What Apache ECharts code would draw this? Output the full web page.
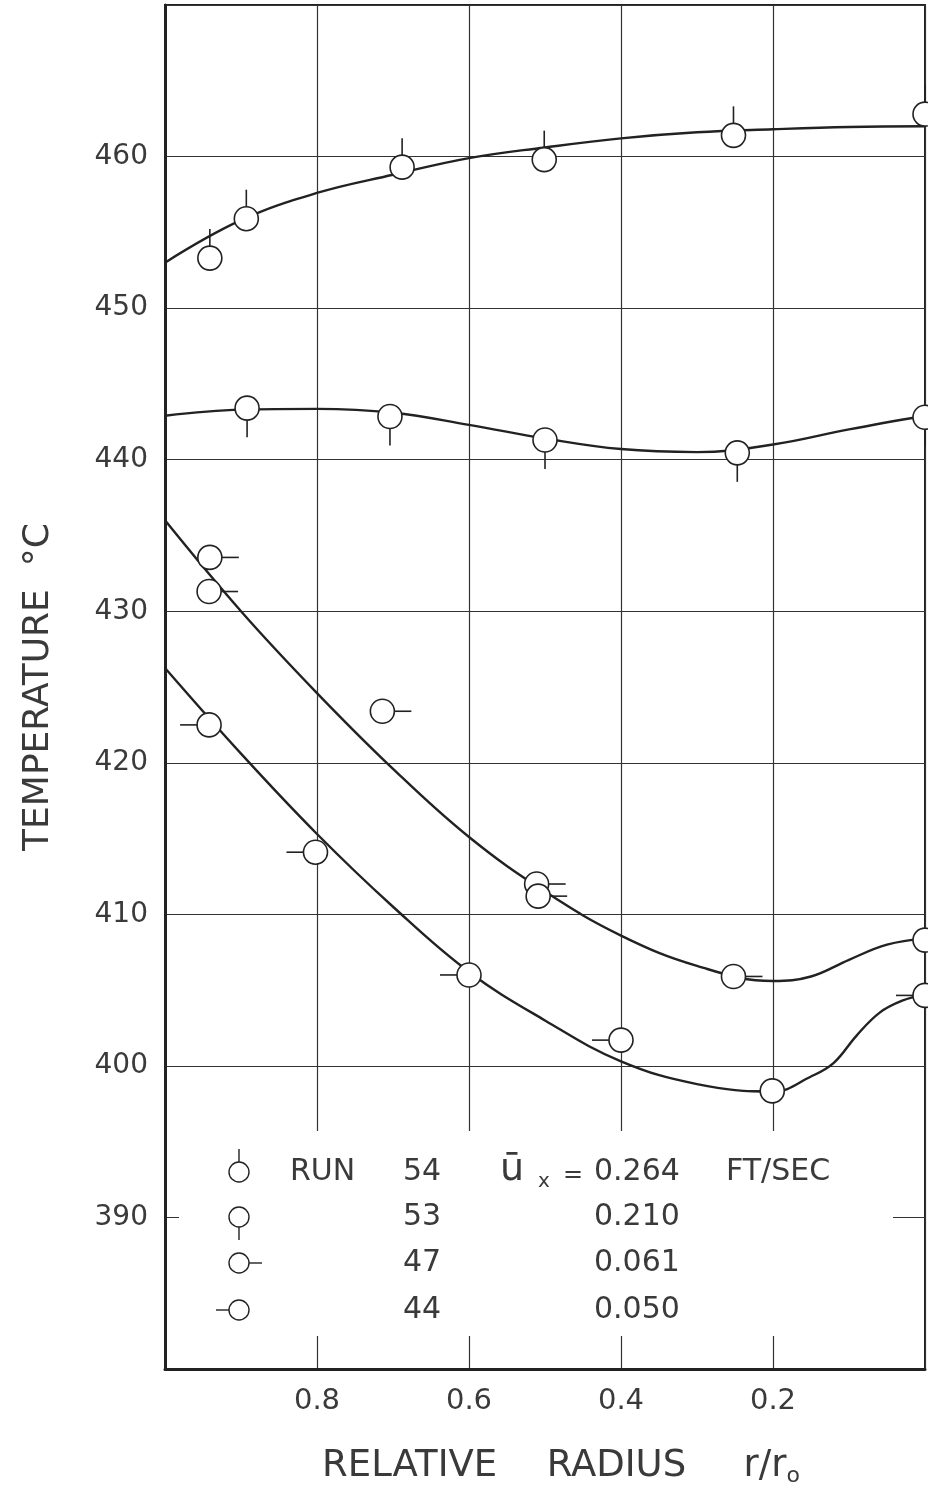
<!DOCTYPE html>
<html>
<head>
<meta charset="utf-8">
<script src="https://cdn.jsdelivr.net/npm/echarts@6/dist/echarts.min.js"></script>
<style>
html,body{margin:0;padding:0;background:#fff;}
#chart{width:928px;height:1492px;}
</style>
</head>
<body>
<div id="chart"></div>
<script>
// measured points [r/r0, temperature C]
var run54 = [[0.941,453.3],[0.893,455.9],[0.688,459.3],[0.501,459.8],[0.252,461.4],[0.0,462.8]];
var run53 = [[0.892,443.4],[0.704,442.85],[0.500,441.3],[0.247,440.45],[0.0,442.8]];
var run47 = [[0.941,433.55],[0.942,431.3],[0.714,423.4],[0.511,412.0],[0.509,411.2],[0.252,405.9],[0.0,408.3]];
var run44 = [[0.942,422.5],[0.802,414.1],[0.600,406.0],[0.400,401.7],[0.201,398.35],[0.0,404.65]];

// faired curves through the runs
var curve54 = [[1.0,453.0],[0.9,455.8],[0.8,457.6],[0.7,458.8],[0.6,459.9],[0.5,460.6],[0.4,461.2],[0.3,461.6],[0.2,461.8],[0.1,461.95],[0.0,462.0]];
var curve53 = [[1.0,442.9],[0.9,443.3],[0.8,443.35],[0.7,443.1],[0.6,442.3],[0.5,441.4],[0.4,440.7],[0.3,440.5],[0.2,441.0],[0.1,442.0],[0.0,442.9]];
var curve47 = [[1.0,436.0],[0.9,430.0],[0.8,424.6],[0.7,419.6],[0.6,415.1],[0.5,411.5],[0.4,408.6],[0.3,406.6],[0.2,405.6],[0.15,405.9],[0.1,407.0],[0.05,408.0],[0.0,408.4]];
var curve44 = [[1.0,426.25],[0.9,420.6],[0.8,415.3],[0.7,410.5],[0.6,406.2],[0.5,403.0],[0.4,400.3],[0.3,398.8],[0.2,398.3],[0.15,399.3],[0.12,400.2],[0.09,402.0],[0.06,403.5],[0.03,404.3],[0.0,404.7]];

var xTicks = [0.8, 0.6, 0.4, 0.2];
var yTicks = [390, 400, 410, 420, 430, 440, 450, 460];

var legendRuns = ['54', '53', '47', '44'];
var legendVel = ['0.264', '0.210', '0.061', '0.050'];
var legendDir = ['up', 'down', 'right', 'left'];

var INK = '#222';
var TXT = '#3a3a3a';
var FONT = 'DejaVu Sans';

function tickLine(cx, cy, r, len, dir) {
    if (dir === 'up') return {x1: cx, y1: cy - r, x2: cx, y2: cy - r - len};
    if (dir === 'down') return {x1: cx, y1: cy + r, x2: cx, y2: cy + r + len};
    if (dir === 'right') return {x1: cx + r, y1: cy, x2: cx + r + len, y2: cy};
    return {x1: cx - r, y1: cy, x2: cx - r - len, y2: cy};
}

function marker(dir) {
    return function (params, api) {
        var p = api.coord([api.value(0), api.value(1)]);
        return {
            type: 'group',
            children: [
                {type: 'line', shape: tickLine(p[0], p[1], 12, 17, dir), style: {stroke: INK, lineWidth: 1.6}},
                {type: 'circle', shape: {cx: p[0], cy: p[1], r: 12}, style: {fill: '#fff', stroke: INK, lineWidth: 1.6}}
            ]
        };
    };
}

function curve(name, data) {
    return {
        name: name, type: 'line', data: data, smooth: 0.4, showSymbol: false,
        lineStyle: {color: INK, width: 2.4}, z: 2, silent: true
    };
}
function points(name, data, dir) {
    return {name: name, type: 'custom', data: data, renderItem: marker(dir), z: 3, silent: true};
}

// legend block drawn inside the plot (white box cuts the grid)
var graphics = [{
    type: 'rect', z: 10,
    shape: {x: 179, y: 1131, width: 714, height: 205},
    style: {fill: '#fff'}
}];
var rowY = [1172, 1217, 1263, 1310];
for (var i = 0; i < legendRuns.length; i++) {
    var y = rowY[i];
    graphics.push({type: 'line', z: 11, shape: tickLine(239, y, 10, 13, legendDir[i]), style: {stroke: INK, lineWidth: 1.4}});
    graphics.push({type: 'circle', z: 11, shape: {cx: 239, cy: y, r: 10}, style: {fill: '#fff', stroke: INK, lineWidth: 1.4}});
    graphics.push({type: 'text', z: 11, x: 403, y: y, style: {text: legendRuns[i], fontSize: 30, fontFamily: FONT, fill: TXT, verticalAlign: 'middle'}});
    graphics.push({type: 'text', z: 11, x: 594, y: y, style: {text: legendVel[i], fontSize: 30, fontFamily: FONT, fill: TXT, verticalAlign: 'middle'}});
}
graphics.push({type: 'text', z: 11, x: 290, y: rowY[0], style: {text: 'RUN', fontSize: 30, fontFamily: FONT, fill: TXT, verticalAlign: 'middle'}});
graphics.push({type: 'text', z: 11, x: 500, y: rowY[0] - 2, style: {text: '\u016b', fontSize: 38, fontFamily: FONT, fill: TXT, verticalAlign: 'middle'}});
graphics.push({type: 'text', z: 11, x: 538, y: rowY[0] + 10, style: {text: 'x', fontSize: 20, fontFamily: FONT, fill: TXT, verticalAlign: 'middle'}});
graphics.push({type: 'text', z: 11, x: 563, y: rowY[0] + 4, style: {text: '=', fontSize: 24, fontFamily: FONT, fill: TXT, verticalAlign: 'middle'}});
graphics.push({type: 'text', z: 11, x: 726, y: rowY[0], style: {text: 'FT/SEC', fontSize: 30, fontFamily: FONT, fill: TXT, verticalAlign: 'middle'}});

var chart = echarts.init(document.getElementById('chart'));
var option = {
    backgroundColor: '#fff',
    animation: false,
    grid: {left: 165, right: 1, top: 5, bottom: 118, show: true, borderColor: INK, borderWidth: 2},
    xAxis: {
        type: 'value', inverse: true, min: 0, max: 1, interval: 0.2,
        axisLine: {onZero: false, lineStyle: {color: INK, width: 3}},
        axisTick: {show: false},
        splitLine: {show: true, lineStyle: {color: '#333', width: 1.2}},
        axisLabel: {
            margin: 18, fontSize: 29, fontFamily: FONT, color: TXT,
            formatter: function (v) {
                for (var k = 0; k < xTicks.length; k++) {
                    if (Math.abs(v - xTicks[k]) < 1e-6) return xTicks[k].toFixed(1);
                }
                return '';
            }
        },
        name: '{a|RELATIVE} {b|RADIUS} {c|r/r}{sub|o}',
        nameLocation: 'middle', nameGap: 76,
        nameTextStyle: {
            fontSize: 36, fontFamily: FONT, color: TXT, padding: [0, 0, 0, 32],
            rich: {
                a: {fontSize: 37, fontFamily: FONT, color: TXT},
                b: {fontSize: 37, fontFamily: FONT, color: TXT, padding: [0, 0, 0, 38]},
                c: {fontSize: 37, fontFamily: FONT, color: TXT, padding: [0, 0, 0, 46]},
                sub: {fontSize: 22, fontFamily: FONT, color: TXT, padding: [20, 0, 0, 0]}
            }
        }
    },
    yAxis: {
        type: 'value', min: 380, max: 470, interval: 10,
        axisLine: {onZero: false, lineStyle: {color: INK, width: 3}},
        axisTick: {show: false},
        splitLine: {show: true, lineStyle: {color: '#333', width: 1.2}},
        axisLabel: {
            margin: 17, fontSize: 28, fontFamily: FONT, color: TXT,
            formatter: function (v) { return yTicks.indexOf(v) >= 0 ? String(v) : ''; }
        },
        name: 'TEMPERATURE  \u00b0C',
        nameLocation: 'middle', nameGap: 108, nameRotate: 90,
        nameTextStyle: {fontSize: 36, fontFamily: FONT, color: TXT}
    },
    series: [
        curve('c54', curve54), curve('c53', curve53), curve('c47', curve47), curve('c44', curve44),
        points('Run 54', run54, 'up'), points('Run 53', run53, 'down'),
        points('Run 47', run47, 'right'), points('Run 44', run44, 'left')
    ],
    graphic: graphics
};
chart.setOption(option);
</script>
</body>
</html>
